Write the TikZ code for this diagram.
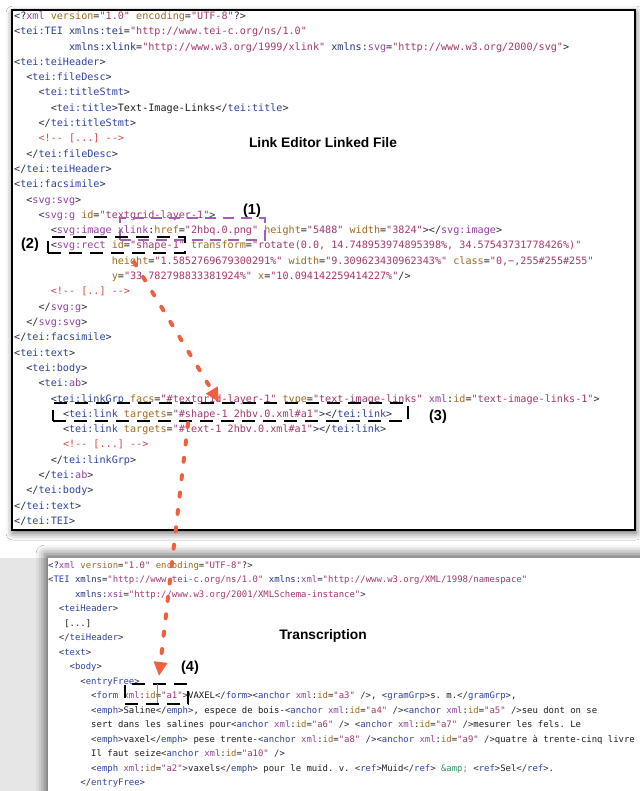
\documentclass[tikz,border=0pt]{standalone}
\usepackage{fontspec}
\setmainfont{Liberation Sans}
\setmonofont{DejaVu Sans Mono}
\newfontfamily\labfont{Liberation Sans}
\usetikzlibrary{arrows.meta,shadows.blur}
\definecolor{cbr}{HTML}{2A2A3A}
\definecolor{cel}{HTML}{2F42A2}
\definecolor{cpre}{HTML}{9440A0}
\definecolor{catt}{HTML}{A06A1C}
\definecolor{cval}{HTML}{A3376E}
\definecolor{ccom}{HTML}{D8453A}
\definecolor{cns}{HTML}{27357E}
\definecolor{camp}{HTML}{2F9A6A}
\definecolor{ctext}{HTML}{1E1E1E}
\definecolor{cpurp}{HTML}{A65DB5}
\definecolor{arrc}{HTML}{F0603E}
\definecolor{leftgray}{HTML}{E6E6E6}
\newcommand\kL{\textcolor{cbr}{<}}
\newcommand\kC{\textcolor{cbr}{</}}
\newcommand\kG{\textcolor{cbr}{>}}
\newcommand\kS{\textcolor{cbr}{/>}}
\newcommand\kE[1]{\textcolor{cel}{#1}}
\newcommand\kP[1]{\textcolor{cpre}{#1}}
\newcommand\kA[1]{\textcolor{catt}{#1}}
\newcommand\kV[1]{\textcolor{cval}{#1}}
\newcommand\kM[1]{\textcolor{ccom}{#1}}
\newcommand\kN[1]{\textcolor{cns}{#1}}
\newcommand\topline[3]{\node[codeT] (t#1) at ({14+6.1*#2},{19.5+15.3*(#1-1)}) {#3};}
\newcommand\botline[3]{\node[codeB] (b#1) at ({48+5.38*#2},{568.2+14.5*(#1-1)}) {#3};}
\tikzset{
  codeT/.style={anchor=base west, inner sep=0pt, font=\ttfamily\fontsize{10.13}{12}\selectfont, text=ctext},
  codeB/.style={anchor=base west, inner sep=0pt, font=\ttfamily\fontsize{8.94}{11}\selectfont, text=ctext},
  panelT/.style={draw=black, line width=1.6pt, fill=white, inner sep=0pt, outer sep=0pt,
    blur shadow={shadow xshift=1pt, shadow yshift=-3pt, shadow blur radius=7pt, shadow opacity=60}},
  panelB/.style={fill=white, draw=none, inner sep=0pt, outer sep=0pt,
    blur shadow={shadow xshift=-3pt, shadow yshift=4pt, shadow blur radius=9pt, shadow opacity=60}},
  dbox/.style={draw=black, line width=2.8pt, dash pattern=on 13pt off 8pt, inner sep=0pt, outer sep=0pt},
  pbox/.style={draw=cpurp, line width=2.4pt, dash pattern=on 11pt off 7pt, inner sep=0pt, outer sep=0pt},
  lab/.style={font=\labfont\bfseries\fontsize{14.5}{16}\selectfont, inner sep=0pt},
  ttl/.style={font=\labfont\bfseries\fontsize{13.8}{16}\selectfont, inner sep=0pt},
  redarrow/.style={draw=arrc, line width=4pt, line cap=round, dash pattern=on 4pt off 13.5pt,
    -{Triangle[length=14pt,width=13pt]}}
}
\begin{document}
\begin{tikzpicture}[x=1pt,y=-1pt]
\useasboundingbox (0,0) rectangle (639,791);
\fill[white] (0,0) rectangle (639,791);
% bottom window
\fill[leftgray] (0,558) rectangle (48,791);
\node[panelB, minimum width=620pt, minimum height=260pt] (botpanel) at (358,688) {};
% top window
\node[panelT, minimum width=623pt, minimum height=520pt] (toppanel) at (323.5,270) {};

% ---- top code ----
\topline{1}{0}{\textcolor{cbr}{<?}\kP{xml} \kA{version}=\kV{"1.0"} \kA{encoding}=\kV{"UTF-8"}\textcolor{cbr}{?>}}
\topline{2}{0}{\kL\kE{tei:TEI} \kN{xmlns:tei}=\kV{"http://www.tei-c.org/ns/1.0"}}
\topline{3}{9}{\kN{xmlns:xlink}=\kV{"http://www.w3.org/1999/xlink"} \kN{xmlns:}\kP{svg}=\kV{"http://www.w3.org/2000/svg"}\kG{}}
\topline{4}{0}{\kL\kE{tei:teiHeader}\kG{}}
\topline{5}{2}{\kL\kE{tei:fileDesc}\kG{}}
\topline{6}{4}{\kL\kE{tei:titleStmt}\kG{}}
\topline{7}{6}{\kL\kE{tei:title}\kG{}Text-Image-Links\kC\kE{tei:title}\kG{}}
\topline{8}{4}{\kC\kE{tei:titleStmt}\kG{}}
\topline{9}{4}{\kM{<!-- [...] -->}}
\topline{10}{2}{\kC\kE{tei:fileDesc}\kG{}}
\topline{11}{0}{\kC\kE{tei:teiHeader}\kG{}}
\topline{12}{0}{\kL\kE{tei:facsimile}\kG{}}
\topline{13}{2}{\kL\kP{svg:svg}\kG{}}
\topline{14}{4}{\kL\kP{svg:g} \kA{id}=\kV{"textgrid-layer-1"}\kG{}}
\topline{15}{6}{\kL\kP{svg:image} \kP{xlink}:\kA{href}=\kV{"2hbq.0.png"} \kA{height}=\kV{"5488"} \kA{width}=\kV{"3824"}\kG\kC\kP{svg:image}\kG{}}
\topline{16}{6}{\kL\kP{svg:rect} \kA{id}=\kV{"shape-1"} \kA{transform}=\kV{"rotate(0.0, 14.748953974895398\%, 34.57543731778426\%)"}}
\topline{17}{16}{\kA{height}=\kV{"1.5852769679300291\%"} \kA{width}=\kV{"9.309623430962343\%"} \kA{class}=\kV{"0,−,255\#255\#255"}}
\topline{18}{16}{\kA{y}=\kV{"33.782798833381924\%"} \kA{x}=\kV{"10.094142259414227\%"}\kS}
\topline{19}{6}{\kM{<!-- [..] -->}}
\topline{20}{4}{\kC\kP{svg:g}\kG{}}
\topline{21}{2}{\kC\kP{svg:svg}\kG{}}
\topline{22}{0}{\kC\kE{tei:facsimile}\kG{}}
\topline{23}{0}{\kL\kE{tei:text}\kG{}}
\topline{24}{2}{\kL\kE{tei:body}\kG{}}
\topline{25}{4}{\kL\kE{tei:}\kP{ab}\kG{}}
\topline{26}{6}{\kL\kE{tei:linkGrp} \kA{facs}=\kV{"\#textgrid-layer-1"} \kA{type}=\kV{"text-image-links"} \kP{xml}:\kA{id}=\kV{"text-image-links-1"}\kG{}}
\topline{27}{8}{\kL\kE{tei:link} \kA{targets}=\kV{"\#shape-1 2hbv.0.xml\#a1"}\kG\kC\kE{tei:link}\kG{}}
\topline{28}{8}{\kL\kE{tei:link} \kA{targets}=\kV{"\#text-1 2hbv.0.xml\#a1"}\kG\kC\kE{tei:link}\kG{}}
\topline{29}{8}{\kM{<!-- [...] -->}}
\topline{30}{6}{\kC\kE{tei:linkGrp}\kG{}}
\topline{31}{4}{\kC\kE{tei:}\kP{ab}\kG{}}
\topline{32}{2}{\kC\kE{tei:body}\kG{}}
\topline{33}{0}{\kC\kE{tei:text}\kG{}}
\topline{34}{0}{\kC\kE{tei:TEI}\kG{}}

% ---- bottom code ----
\botline{1}{0}{\textcolor{cbr}{<?}\kP{xml} \kA{version}=\kV{"1.0"} \kA{encoding}=\kV{"UTF-8"}\textcolor{cbr}{?>}}
\botline{2}{0}{\kL\kE{TEI} \kN{xmlns}=\kV{"http://www.tei-c.org/ns/1.0"} \kN{xmlns:}\kP{xml}=\kV{"http://www.w3.org/XML/1998/namespace"}}
\botline{3}{5}{\kN{xmlns:}\kP{xsi}=\kV{"http://www.w3.org/2001/XMLSchema-instance"}\kG{}}
\botline{4}{2}{\kL\kE{teiHeader}\kG{}}
\botline{5}{3}{[...]}
\botline{6}{2}{\kC\kE{teiHeader}\kG{}}
\botline{7}{2}{\kL\kE{text}\kG{}}
\botline{8}{4}{\kL\kE{body}\kG{}}
\botline{9}{6}{\kL\kE{entryFree}\kG{}}
\botline{10}{8}{\kL\kE{form} \kP{xml}:\kA{id}=\kV{"a1"}\kG{}VAXEL\kC\kE{form}\kG\kL\kE{anchor} \kP{xml}:\kA{id}=\kV{"a3"} \kS, \kL\kE{gramGrp}\kG{}s. m.\kC\kE{gramGrp}\kG,}
\botline{11}{8}{\kL\kE{emph}\kG{}Saline\kC\kE{emph}\kG, espece de bois-\kL\kE{anchor} \kP{xml}:\kA{id}=\kV{"a4"} \kS\kL\kE{anchor} \kP{xml}:\kA{id}=\kV{"a5"} \kS{}seu dont on se}
\botline{12}{8}{sert dans les salines pour\kL\kE{anchor} \kP{xml}:\kA{id}=\kV{"a6"} \kS{} \kL\kE{anchor} \kP{xml}:\kA{id}=\kV{"a7"} \kS{}mesurer les fels. Le}
\botline{13}{8}{\kL\kE{emph}\kG{}vaxel\kC\kE{emph}\kG{} pese trente-\kL\kE{anchor} \kP{xml}:\kA{id}=\kV{"a8"} \kS\kL\kE{anchor} \kP{xml}:\kA{id}=\kV{"a9"} \kS{}quatre à trente-cinq livre}
\botline{14}{8}{Il faut seize\kL\kE{anchor} \kP{xml}:\kA{id}=\kV{"a10"} \kS}
\botline{15}{8}{\kL\kE{emph} \kP{xml}:\kA{id}=\kV{"a2"}\kG{}vaxels\kC\kE{emph}\kG{} pour le muid. v. \kL\kE{ref}\kG{}Muid\kC\kE{ref}\kG{} \textcolor{camp}{\&amp;} \kL\kE{ref}\kG{}Sel\kC\kE{ref}\kG.}
\botline{16}{6}{\kC\kE{entryFree}\kG{}}

% ---- titles ----
\node[ttl] (title1) at (323,143) {Link Editor Linked File};
\node[ttl] (title2) at (323,636) {Transcription};

% ---- dashed boxes ----
\node[pbox, minimum width=145pt, minimum height=22pt] (box1) at (192.5,229) {};
\node[dbox, minimum width=137pt, minimum height=16pt] (box2) at (116.5,245) {};
\node[dbox, minimum width=355pt, minimum height=18pt] (box3) at (230.5,412) {};
\node[dbox, minimum width=63pt, minimum height=20pt] (box4) at (156.5,694) {};

% ---- labels ----
\node[lab] (l1) at (252,211) {(1)};
\node[lab] (l2) at (30,245) {(2)};
\node[lab] (l3) at (438,417) {(3)};
\node[lab] (l4) at (190,668) {(4)};

% ---- arrows ----
\coordinate (a1s) at (134,262);
\coordinate (a1e) at (219,402);
\coordinate (a2s) at (188,423);
\coordinate (a2e) at (159,676);
\draw[redarrow] (a1s) -- (a1e);
\draw[redarrow] (a2s) -- (a2e);
\draw[arrc, line width=0.8pt] (157,684) -- (157,703);
\end{tikzpicture}
\end{document}
